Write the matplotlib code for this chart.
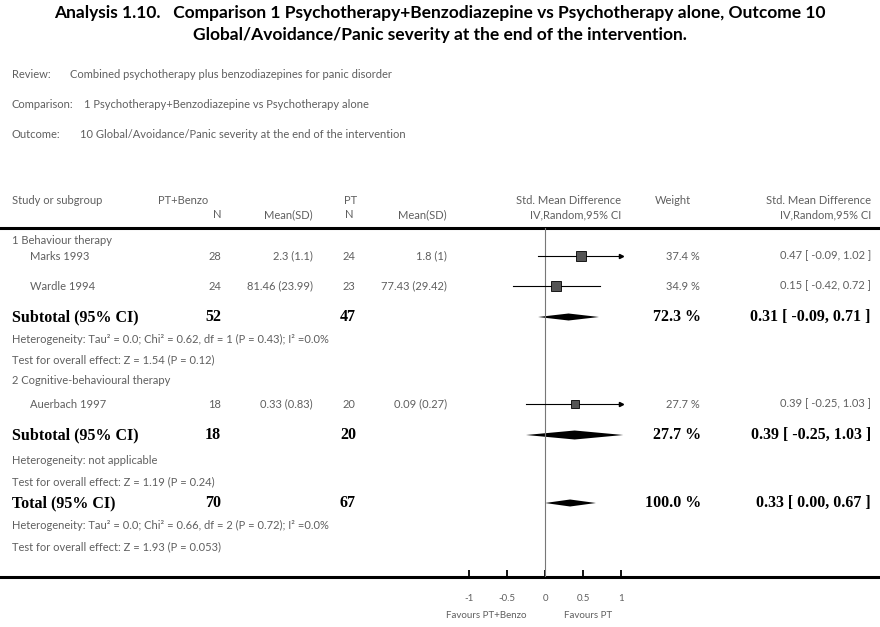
import matplotlib.pyplot as plt

# study level data
groups = ["1 Behaviour therapy", "2 Cognitive-behavioural therapy"]
studies = ["Marks 1993", "Wardle 1994", "Auerbach 1997"]
study_group = [0, 0, 1]
n_benzo = [28, 24, 18]
mean_benzo = [2.3, 81.46, 0.33]
sd_benzo = [1.1, 23.99, 0.83]
n_pt = [24, 23, 20]
mean_pt = [1.8, 77.43, 0.09]
sd_pt = [1, 29.42, 0.27]
smd = [0.47, 0.15, 0.39]
smd_lo = [-0.09, -0.42, -0.25]
smd_hi = [1.02, 0.72, 1.03]
weight = [37.4, 34.9, 27.7]

# subtotals per group
sub_n_benzo = [52, 18]
sub_n_pt = [47, 20]
sub_smd = [0.31, 0.39]
sub_lo = [-0.09, -0.25]
sub_hi = [0.71, 1.03]
sub_weight = [72.3, 27.7]
sub_het = ["Heterogeneity: Tau\u00b2 = 0.0; Chi\u00b2 = 0.62, df = 1 (P = 0.43); I\u00b2 =0.0%",
           "Heterogeneity: not applicable"]
sub_test = ["Test for overall effect: Z = 1.54 (P = 0.12)",
            "Test for overall effect: Z = 1.19 (P = 0.24)"]

# overall
tot_n_benzo = 70
tot_n_pt = 67
tot_smd = 0.33
tot_lo = 0.00
tot_hi = 0.67
tot_weight = 100.0
tot_het = "Heterogeneity: Tau\u00b2 = 0.0; Chi\u00b2 = 0.66, df = 2 (P = 0.72); I\u00b2 =0.0%"
tot_test = "Test for overall effect: Z = 1.93 (P = 0.053)"

ticks = [-1, -0.5, 0, 0.5, 1]
tick_labels = ["-1", "-0.5", "0", "0.5", "1"]

W, H = 880, 627
sans = ["Lato", "DejaVu Sans"]
serif = "Liberation Serif"
grey = "#5f5f5f"
fs = 8
bfs = 11.5

fig = plt.figure(figsize=(W / 100, H / 100), dpi=100)
fig.patch.set_facecolor("white")

# text layer in pixel coordinates
ax = fig.add_axes([0, 0, 1, 1])
ax.set_xlim(0, W)
ax.set_ylim(H, 0)
ax.axis("off")

# forest layer: x=0 at 545px, 76px per unit, rows in pixel y
x0, ppu = 545, 76.0
fl, fr, ftop, fbot = 430, 660, 228, 577
fax = fig.add_axes([fl / W, (H - fbot) / H, (fr - fl) / W, (fbot - ftop) / H])
fax.set_xlim((fl - x0) / ppu, (fr - x0) / ppu)
fax.set_ylim(fbot, ftop)
fax.patch.set_alpha(0)
for s in fax.spines.values():
    s.set_visible(False)
fax.set_yticks([])
fax.set_xticks(ticks)
fax.set_xticklabels(tick_labels, fontsize=7, color=grey, family=sans)
fax.tick_params(axis="x", direction="in", length=5, width=1.3, pad=12)


def txt(x, y, s, ha="left", bold=False, **kw):
    if bold:
        ax.text(x, y, s, ha=ha, va="center", fontsize=bfs, fontweight="bold",
                family=serif, color="black", **kw)
    else:
        ax.text(x, y, s, ha=ha, va="center", fontsize=fs, family=sans, color=grey, **kw)


def fmt_ci(e, lo, hi):
    return f"{e:.2f} [ {lo:.2f}, {hi:.2f} ]"


# title
ax.text(W / 2, 13, "Analysis 1.10.   Comparison 1 Psychotherapy+Benzodiazepine vs Psychotherapy alone, Outcome 10",
        ha="center", va="center", fontsize=12.5, fontweight="bold", family=sans)
ax.text(W / 2, 35, "Global/Avoidance/Panic severity at the end of the intervention.",
        ha="center", va="center", fontsize=12.5, fontweight="bold", family=sans)

# review info
txt(12, 74, "Review:")
txt(70, 74, "Combined psychotherapy plus benzodiazepines for panic disorder")
txt(12, 104, "Comparison:")
txt(84, 104, "1 Psychotherapy+Benzodiazepine vs Psychotherapy alone")
txt(12, 134, "Outcome:")
txt(80, 134, "10 Global/Avoidance/Panic severity at the end of the intervention")

# column headers
txt(12, 200, "Study or subgroup")
txt(158, 200, "PT+Benzo")
txt(344, 200, "PT")
txt(621, 200, "Std. Mean Difference", ha="right")
txt(655, 200, "Weight")
txt(871, 200, "Std. Mean Difference", ha="right")
txt(221, 215, "N", ha="right")
txt(313, 215, "Mean(SD)", ha="right")
txt(353, 215, "N", ha="right")
txt(447, 215, "Mean(SD)", ha="right")
txt(621, 215, "IV,Random,95% CI", ha="right")
txt(871, 215, "IV,Random,95% CI", ha="right")

ax.plot([0, W], [228, 228], color="black", lw=2.2)
ax.plot([0, W], [577, 577], color="black", lw=2.2)

# zero line
fax.plot([0, 0], [ftop, fbot], color="#777777", lw=0.8)

# row positions
group_y = [240, 380]
study_y = [256, 286, 404]
sub_y = [317, 435]
het_y = [339, 461]
test_y = [360, 482]
tot_y = 503

for g in range(len(groups)):
    txt(12, group_y[g], groups[g])

for i in range(len(studies)):
    y = study_y[i]
    txt(30, y, studies[i])
    txt(221, y, str(n_benzo[i]), ha="right")
    txt(313, y, f"{mean_benzo[i]:g} ({sd_benzo[i]:g})", ha="right")
    txt(355, y, str(n_pt[i]), ha="right")
    txt(447, y, f"{mean_pt[i]:g} ({sd_pt[i]:g})", ha="right")
    txt(700, y, f"{weight[i]:.1f} %", ha="right")
    txt(871, y, fmt_ci(smd[i], smd_lo[i], smd_hi[i]), ha="right")
    # CI line, arrow when it runs past the axis end
    hi = min(smd_hi[i], 1.0)
    fax.plot([smd_lo[i], hi], [y, y], color="black", lw=0.8)
    if smd_hi[i] > 1.0:
        fax.plot([hi], [y], marker=">", color="black", markersize=3)
    fax.plot([smd[i]], [y], marker="s", markersize=weight[i] * 0.2,
             markerfacecolor="#555555", markeredgecolor="black", markeredgewidth=0.6)

diamond_h = [3.5, 4.5]
for g in range(len(groups)):
    y = sub_y[g]
    txt(12, y, "Subtotal (95% CI)", bold=True)
    txt(221, y, str(sub_n_benzo[g]), ha="right", bold=True)
    txt(356, y, str(sub_n_pt[g]), ha="right", bold=True)
    txt(701, y, f"{sub_weight[g]:.1f} %", ha="right", bold=True)
    txt(871, y, fmt_ci(sub_smd[g], sub_lo[g], sub_hi[g]), ha="right", bold=True)
    h = diamond_h[g]
    fax.fill([sub_lo[g], sub_smd[g], sub_hi[g], sub_smd[g]], [y, y - h, y, y + h],
             color="black", lw=0)
    txt(12, het_y[g], sub_het[g])
    txt(12, test_y[g], sub_test[g])

txt(12, tot_y, "Total (95% CI)", bold=True)
txt(221, tot_y, str(tot_n_benzo), ha="right", bold=True)
txt(356, tot_y, str(tot_n_pt), ha="right", bold=True)
txt(701, tot_y, f"{tot_weight:.1f} %", ha="right", bold=True)
txt(871, tot_y, fmt_ci(tot_smd, tot_lo, tot_hi), ha="right", bold=True)
fax.fill([tot_lo, tot_smd, tot_hi, tot_smd], [tot_y, tot_y - 3.5, tot_y, tot_y + 3.5],
         color="black", lw=0)
txt(12, 525, tot_het)
txt(12, 547, tot_test)

# favours labels
ax.text(527, 615, "Favours PT+Benzo", ha="right", va="center", fontsize=7, family=sans, color=grey)
ax.text(564, 615, "Favours PT", ha="left", va="center", fontsize=7, family=sans, color=grey)

fig.savefig("out.png", dpi=100, facecolor="white")
